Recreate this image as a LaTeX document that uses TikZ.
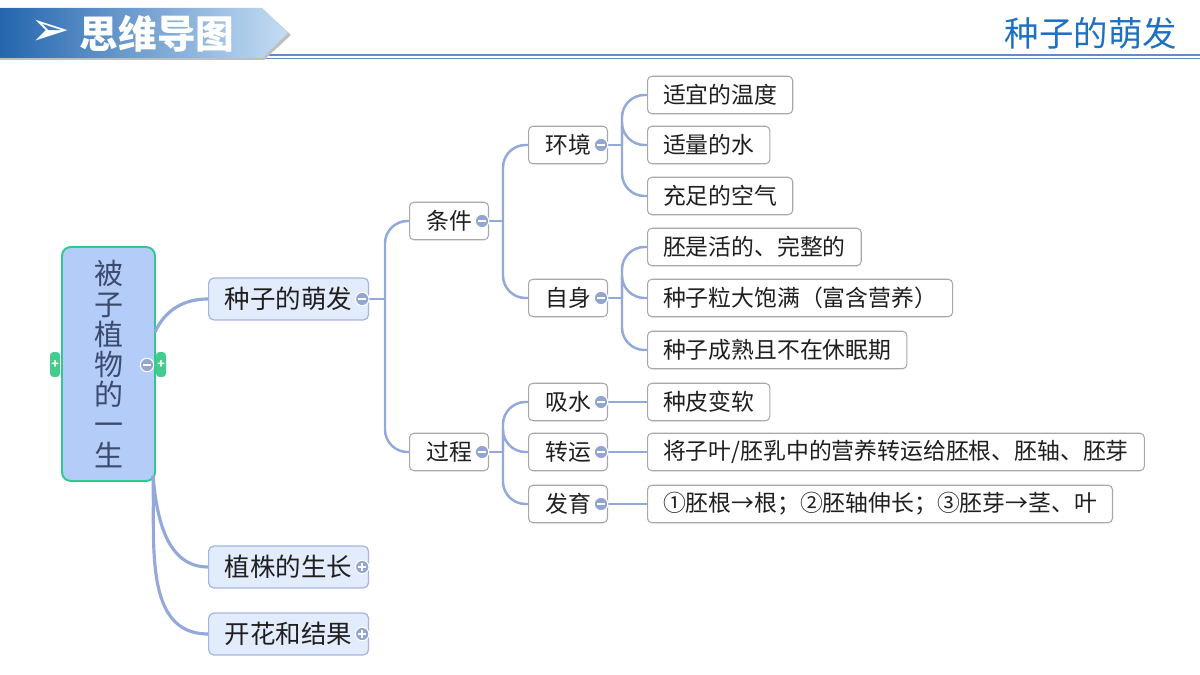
\documentclass[tikz,border=0pt]{standalone}
\usepackage{fontspec}
\setmainfont{Noto Sans CJK SC}
\newfontfamily\dingfont{DejaVu Sans}
\usetikzlibrary{positioning}
\definecolor{linec}{HTML}{94A9DA}
\definecolor{foldc}{HTML}{93A5D1}
\definecolor{rootfill}{HTML}{B4CDF8}
\definecolor{rootline}{HTML}{2EC98D}
\definecolor{roottext}{HTML}{3B4B6E}
\definecolor{tabc}{HTML}{44CC8F}
\definecolor{topicfill}{HTML}{E3ECFC}
\definecolor{topicline}{HTML}{A3B6E0}
\definecolor{subline}{HTML}{A8A8A8}
\definecolor{titleblue}{HTML}{1E70C1}
\definecolor{hlinec}{HTML}{5C8FCC}
\definecolor{bannerdark}{HTML}{2566AE}
\definecolor{bannerlight}{HTML}{C4DDF4}

\begin{document}
\begin{tikzpicture}[x=0.02cm, y=-0.02cm,
	every node/.style={font=\fontsize{13}{15}\selectfont, text=black!88},
	root/.style={draw=rootline, fill=rootfill, line width=1.1pt, rounded corners=5pt, minimum width=1.86cm, minimum height=4.68cm, align=center, inner sep=0pt, font=\fontsize{16.5}{17.2}\selectfont, text=roottext},
	tab/.style={fill=tabc, rounded corners=2pt, minimum width=0.2cm, minimum height=0.5cm, inner sep=0pt, text=white, font=\fontsize{7}{7}\selectfont\bfseries},
	topic/.style={draw=topicline, fill=topicfill, line width=0.7pt, rounded corners=3pt, anchor=west, minimum width=3.2cm, minimum height=0.84cm, font=\fontsize{14.5}{16}\selectfont},
	sub/.style={draw=subline, fill=white, line width=0.6pt, rounded corners=2.5pt, anchor=west, minimum height=0.75cm, inner xsep=0.31cm},
	mid/.style={sub, minimum width=1.58cm},
	link/.style={draw=linec, line width=1.4pt, rounded corners=0.45cm},
	fold/.style={circle, fill=foldc, draw=white, line width=0.6pt, minimum size=0.27cm, inner sep=0pt, path picture={\draw[white, line width=1.2pt] ([xshift=-0.075cm]path picture bounding box.center) -- ([xshift=0.075cm]path picture bounding box.center);}},
	unfold/.style={circle, fill=foldc, draw=white, line width=0.6pt, minimum size=0.27cm, inner sep=0pt, path picture={\draw[white, line width=1.2pt] ([xshift=-0.075cm]path picture bounding box.center) -- ([xshift=0.075cm]path picture bounding box.center) ([yshift=-0.075cm]path picture bounding box.center) -- ([yshift=0.075cm]path picture bounding box.center);}}]
	\useasboundingbox (0,0) rectangle (1200,675);

	% header
	\draw[hlinec, line width=0.6pt] (0,55) -- (1200,55);
	\draw[hlinec, line width=0.6pt] (0,58.5) -- (1200,58.5);
	\fill[black!25] (0,10) -- (264,10) -- (291,35) -- (264,60) -- (0,60) -- cycle;
	\shade[left color=bannerdark, right color=bannerlight] (0,8) -- (262,8) -- (288,33) -- (262,58) -- (0,58) -- cycle;
	\node[text=white, font=\dingfont\fontsize{27}{29}\selectfont] (mark) at (50,33) {➢};
	\node[text=white, font=\fontsize{22}{24}\selectfont\bfseries] (head) at (157,34) {思维导图};
	\node[text=titleblue, font=\fontsize{19.6}{22}\selectfont] (title) at (1091,33) {种子的萌发};

	% root and main topics
	\node[tab] (tabl) at (55,364.5) {+};
	\node[tab] (tabr) at (161,364.5) {+};
	\node[root] (root) at (108.5,364) {被\\子\\植\\物\\的\\一\\生};
	\node[topic] (t1) at (208,299) {种子的萌发};
	\node[topic] (t2) at (208,567) {植株的生长};
	\node[topic] (t3) at (208,634) {开花和结果};

	% second level
	\node[mid] (m1) at (409,221) {条件};
	\node[mid] (m2) at (409,452) {过程};
	\node[mid] (e1) at (528,145) {环境};
	\node[mid] (e2) at (528,298) {自身};
	\node[mid] (p1) at (528,402) {吸水};
	\node[mid] (p2) at (528,452) {转运};
	\node[mid] (p3) at (528,504) {发育};

	% leaves
	\node[sub] (a1) at (647,95) {适宜的温度};
	\node[sub] (a2) at (647,145) {适量的水};
	\node[sub] (a3) at (647,196) {充足的空气};
	\node[sub] (b1) at (647,247) {胚是活的、完整的};
	\node[sub] (b2) at (647,298) {种子粒大饱满（富含营养）};
	\node[sub] (b3) at (647,350) {种子成熟且不在休眠期};
	\node[sub] (c1) at (647,402) {种皮变软};
	\node[sub] (c2) at (647,452) {将子叶/胚乳中的营养转运给胚根、胚轴、胚芽};
	\node[sub] (c3) at (647,504) {①胚根→根；②胚轴伸长；③胚芽→茎、叶};

	% connectors
	\coordinate (r1) at (155,332);
	\coordinate (r2) at (153,476);
	\coordinate (j1) at (385,299);
	\coordinate (j2) at (503,221);
	\coordinate (j3) at (503,452);
	\coordinate (j4) at (622,145);
	\coordinate (j5) at (622,298);
	\draw[link, line width=1.8pt] (r1) to[out=65, in=180] (t1.west);
	\draw[link, line width=1.8pt] (r2) to[out=-85, in=180] (t2.west);
	\draw[link, line width=1.8pt] (r2) to[out=-88, in=180] (t3.west);
	\draw[link] (t1.east) -- (j1);
	\draw[link] (j1) |- (m1.west);
	\draw[link] (j1) |- (m2.west);
	\draw[link] (m1.east) -- (j2);
	\draw[link] (j2) |- (e1.west);
	\draw[link] (j2) |- (e2.west);
	\draw[link] (m2.east) -- (j3);
	\draw[link] (j3) |- (p1.west);
	\draw[link] (j3) |- (p2.west);
	\draw[link] (j3) |- (p3.west);
	\draw[link] (e1.east) -- (j4);
	\draw[link] (j4) |- (a1.west);
	\draw[link] (j4) |- (a2.west);
	\draw[link] (j4) |- (a3.west);
	\draw[link] (e2.east) -- (j5);
	\draw[link] (j5) |- (b1.west);
	\draw[link] (j5) |- (b2.west);
	\draw[link] (j5) |- (b3.west);
	\draw[link] (p1) -- (c1);
	\draw[link] (p2) -- (c2);
	\draw[link] (p3) -- (c3);

	% fold markers
	\node[fold] (f0) at (147,365) {};
	\node[fold] (f1) at ([xshift=-0.14cm]t1.east) {};
	\node[unfold] (f2) at ([xshift=-0.14cm]t2.east) {};
	\node[unfold] (f3) at ([xshift=-0.14cm]t3.east) {};
	\node[fold] (f4) at ([xshift=-0.14cm]m1.east) {};
	\node[fold] (f5) at ([xshift=-0.14cm]m2.east) {};
	\node[fold] (f6) at ([xshift=-0.14cm]e1.east) {};
	\node[fold] (f7) at ([xshift=-0.14cm]e2.east) {};
	\node[fold] (f8) at ([xshift=-0.14cm]p1.east) {};
	\node[fold] (f9) at ([xshift=-0.14cm]p2.east) {};
	\node[fold] (f10) at ([xshift=-0.14cm]p3.east) {};
\end{tikzpicture}
\end{document}
